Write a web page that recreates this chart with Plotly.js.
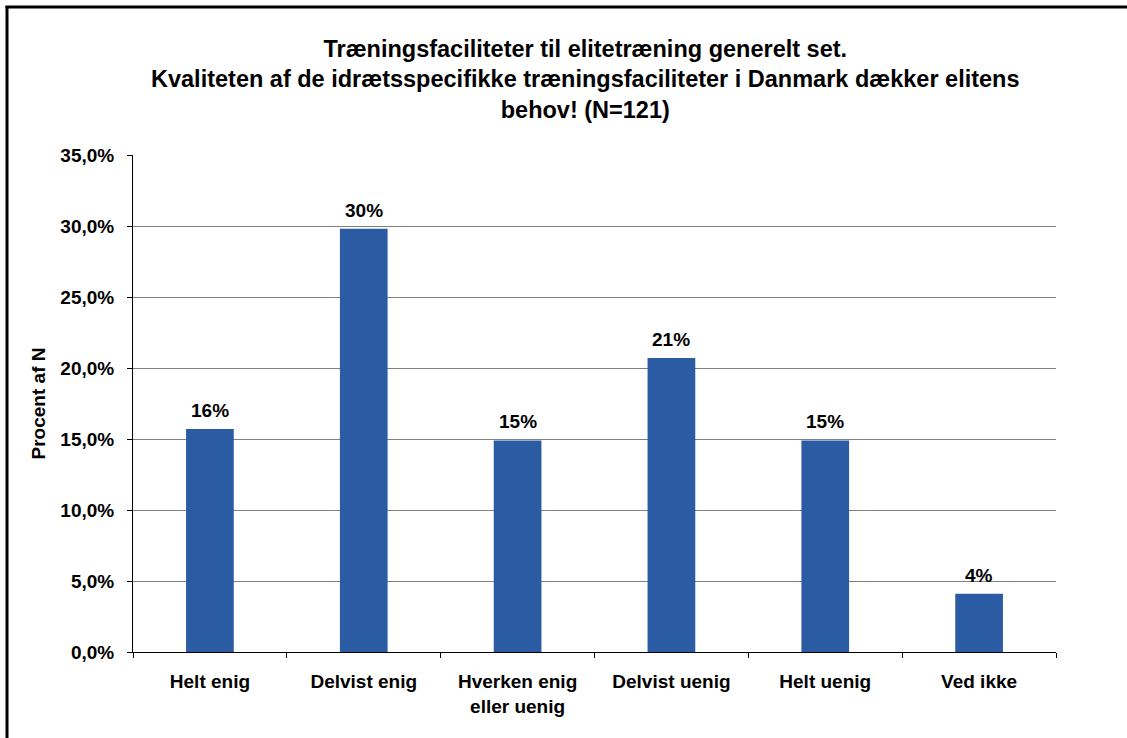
<!DOCTYPE html>
<html>
<head>
<meta charset="utf-8">
<script src="https://cdn.plot.ly/plotly-3.0.1.min.js"></script>
<style>
html,body{margin:0;padding:0;background:#fff;overflow:hidden;}
#chart{width:1127px;height:738px;}
</style>
</head>
<body>
<div id="chart"></div>
<script>
const categories = ['Helt enig', 'Delvist enig', 'Hverken enig<br>eller uenig', 'Delvist uenig', 'Helt uenig', 'Ved ikke'];
const shares = [0.157, 0.298, 0.149, 0.207, 0.149, 0.041];
const labels = ['16%', '30%', '15%', '21%', '15%', '4%'];
const titleText = '<b>Træningsfaciliteter til elitetræning generelt set.<br>Kvaliteten af de idrætsspecifikke træningsfaciliteter i Danmark dækker elitens<br>behov! (N=121)</b>';
const yTitle = 'Procent af N';

const font = 'Arial, Liberation Sans, sans-serif';

const trace = {
  type: 'bar',
  x: categories,
  y: shares,
  marker: {color: '#2A5BA3'},
  width: 0.31,
  hoverinfo: 'none'
};

const valueLabels = categories.map((c, i) => ({
  x: c, y: shares[i], xref: 'x', yref: 'y',
  text: '<b>' + labels[i] + '</b>',
  showarrow: false, xanchor: 'center', yanchor: 'bottom', yshift: 6,
  font: {family: font, size: 19, color: '#000'}
}));

const layout = {
  width: 1127,
  height: 738,
  margin: {l: 133, r: 71, t: 155, b: 86},
  paper_bgcolor: '#fff',
  plot_bgcolor: '#fff',
  separators: ',.',
  showlegend: false,
  font: {family: font, color: '#000'},
  title: {
    text: titleText,
    font: {family: font, size: 23.5, color: '#000'},
    x: 0.49, xref: 'paper', xanchor: 'center',
    y: 0.923, yref: 'container', yanchor: 'top'
  },
  xaxis: {
    type: 'category',
    showline: true, linecolor: '#000', linewidth: 1,
    ticks: 'outside', tickson: 'boundaries', ticklen: 5, tickcolor: '#000',
    tickfont: {family: font, size: 19, color: '#000', weight: 'bold'},
    ticklabelstandoff: 12,
    showgrid: false, zeroline: false
  },
  yaxis: {
    range: [0, 0.35],
    dtick: 0.05,
    tickformat: '.1%',
    showline: true, linecolor: '#000', linewidth: 1,
    ticks: 'outside', ticklen: 5, tickcolor: '#000',
    tickfont: {family: font, size: 19, color: '#000', weight: 'bold'},
    ticklabelstandoff: 9,
    showgrid: true, gridcolor: '#808080', gridwidth: 1,
    zeroline: false,
    title: {text: '<b>' + yTitle + '</b>', font: {family: font, size: 19, color: '#000'}, standoff: 9}
  },
  annotations: valueLabels,
  shapes: [
    {type: 'line', xref: 'paper', yref: 'paper', x0: -0.1365, x1: -0.1365, y0: -0.2, y1: 1.2998,
     line: {color: '#000', width: 3}, layer: 'above'},
    {type: 'line', xref: 'paper', yref: 'paper', x0: -0.1382, x1: 1.0769, y0: 1.2978, y1: 1.2978,
     line: {color: '#000', width: 3}, layer: 'above'}
  ]
};

Plotly.newPlot('chart', [trace], layout, {displayModeBar: false, staticPlot: true});
</script>
</body>
</html>
